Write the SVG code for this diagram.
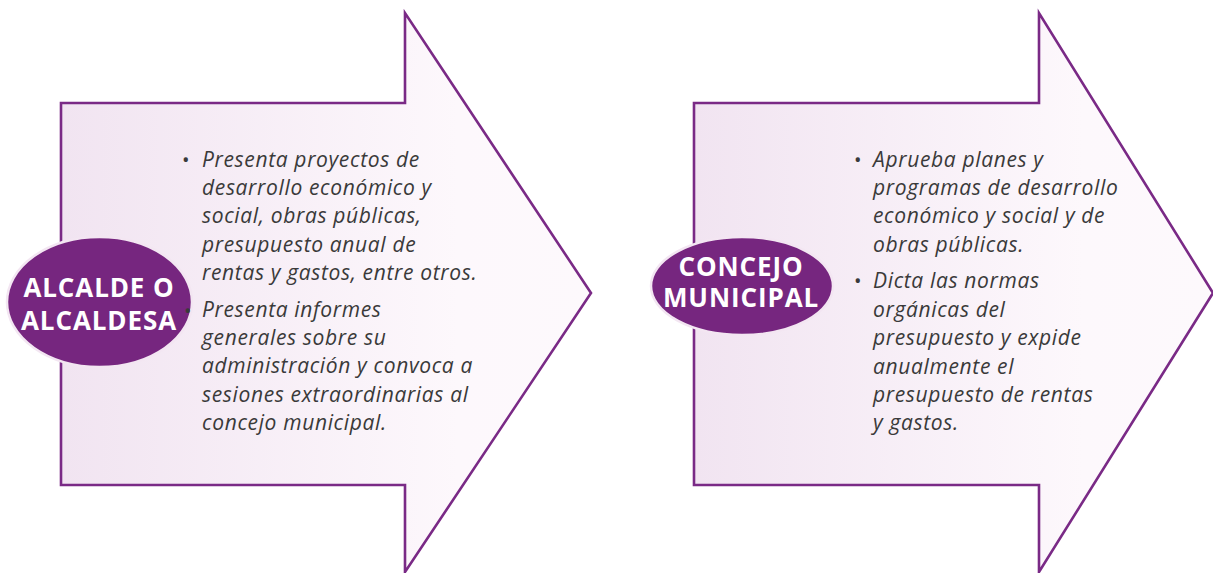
<svg xmlns="http://www.w3.org/2000/svg" width="1213" height="573" viewBox="0 0 1213 573">
<defs>
<linearGradient id="fillL" gradientUnits="userSpaceOnUse" x1="61" y1="0" x2="591" y2="0">
<stop offset="0" stop-color="#F1E4F1"/>
<stop offset="0.75" stop-color="#FDF8FC"/>
<stop offset="1" stop-color="#FDF9FC"/>
</linearGradient>
<linearGradient id="fillR" gradientUnits="userSpaceOnUse" x1="694" y1="0" x2="1213" y2="0">
<stop offset="0" stop-color="#F1E4F1"/>
<stop offset="0.75" stop-color="#FDF8FC"/>
<stop offset="1" stop-color="#FDF9FC"/>
</linearGradient>
<style>
.arrow{stroke:#7A2A86;stroke-width:2.6;stroke-linejoin:miter}
.oval{fill:#76267F;stroke:#F3E6F2;stroke-width:2.5}
.title{font-family:"Open Sans","Liberation Sans",sans-serif;font-weight:bold;font-size:26px;fill:#FFFFFF;text-anchor:middle;letter-spacing:0.9px}
.body{font-family:"Open Sans","Liberation Sans",sans-serif;font-style:italic;font-size:21px;fill:#3A3A3A;letter-spacing:0.65px}
.bul{font-family:"Open Sans","Liberation Sans",sans-serif;font-size:20px;fill:#3A3A3A}
</style>
</defs>
<g id="alcalde">
<path class="arrow" fill="url(#fillL)" d="M61,103 H405 V13 L591,293 L405,572 V485 H61 Z"/>
<ellipse class="oval" cx="99.5" cy="302" rx="92.5" ry="65"/>
<text class="title" x="99" y="297">ALCALDE O</text>
<text class="title" x="99" y="330">ALCALDESA</text>
<text class="bul" x="182" y="167">•</text>
<text class="bul" x="184" y="318">•</text>
<text class="body">
<tspan x="202" y="167">Presenta proyectos de</tspan>
<tspan x="202" y="195">desarrollo económico y</tspan>
<tspan x="202" y="223">social, obras públicas,</tspan>
<tspan x="202" y="252">presupuesto anual de</tspan>
<tspan x="202" y="280">rentas y gastos, entre otros.</tspan>
<tspan x="202" y="317">Presenta informes</tspan>
<tspan x="202" y="345">generales sobre su</tspan>
<tspan x="202" y="373">administración y convoca a</tspan>
<tspan x="202" y="402">sesiones extraordinarias al</tspan>
<tspan x="202" y="430">concejo municipal.</tspan>
</text>
</g>
<g id="concejo">
<path class="arrow" fill="url(#fillR)" d="M694,103 H1039 V13 L1213,293 L1039,572 V485 H694 Z"/>
<ellipse class="oval" cx="742" cy="286" rx="91" ry="49"/>
<text class="title" x="741" y="276">CONCEJO</text>
<text class="title" x="741" y="307">MUNICIPAL</text>
<text class="bul" x="854" y="167">•</text>
<text class="bul" x="854" y="288">•</text>
<text class="body">
<tspan x="873" y="167">Aprueba planes y</tspan>
<tspan x="873" y="195">programas de desarrollo</tspan>
<tspan x="873" y="223">económico y social y de</tspan>
<tspan x="873" y="252">obras públicas.</tspan>
<tspan x="873" y="288">Dicta las normas</tspan>
<tspan x="873" y="317">orgánicas del</tspan>
<tspan x="873" y="345">presupuesto y expide</tspan>
<tspan x="873" y="374">anualmente el</tspan>
<tspan x="873" y="402">presupuesto de rentas</tspan>
<tspan x="873" y="430">y gastos.</tspan>
</text>
</g>
<g id="connectors"/>
</svg>
